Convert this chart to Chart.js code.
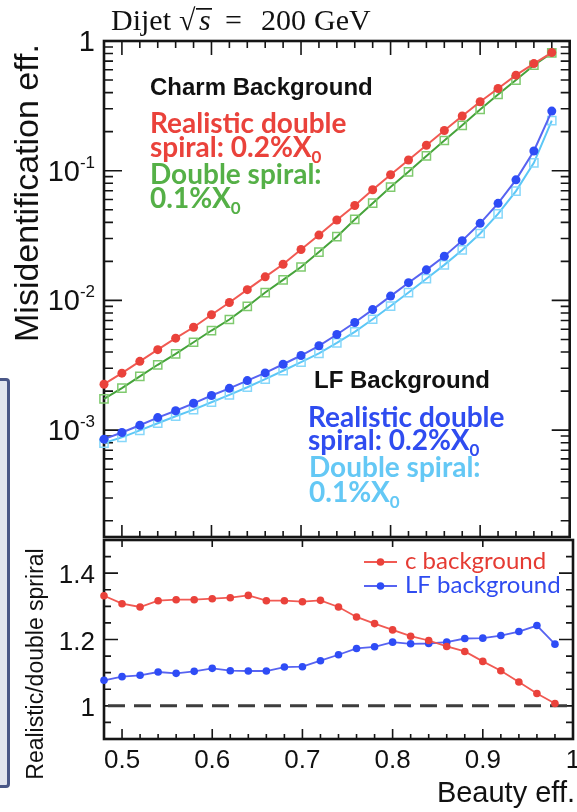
<!DOCTYPE html>
<html>
<head>
<meta charset="utf-8">
<title>Misidentification efficiency vs beauty efficiency</title>
<script src="https://cdn.jsdelivr.net/npm/chart.js@4.4.1/dist/chart.umd.min.js"></script>
<style>
  html, body { margin: 0; padding: 0; background: #fff; }
  body { width: 577px; height: 812px; position: relative; overflow: hidden; }
  canvas { position: absolute; left: 0; }
  #upper { top: 0; }
  #lower { top: 530px; }
  .sideBox {
    position: absolute; left: -12px; top: 378px; width: 16px; height: 404px;
    border: 3px solid #4a5787; border-radius: 4px; background: #e2e5ef;
  }
</style>
</head>
<body>
<div class="sideBox"></div>
<canvas id="upper" width="577" height="545"></canvas>
<canvas id="lower" width="577" height="282"></canvas>
<script>
// beauty efficiency of each working point
const beautyEff = [0.48, 0.50, 0.52, 0.54, 0.56, 0.58, 0.60, 0.62, 0.64, 0.66, 0.68, 0.70, 0.72,
                   0.74, 0.76, 0.78, 0.80, 0.82, 0.84, 0.86, 0.88, 0.90, 0.92, 0.94, 0.96, 0.98];

// charm background misidentification
const charmRealistic = [0.00226, 0.00275, 0.00339, 0.00417, 0.00512, 0.00621, 0.00776, 0.00964, 0.0121,
                        0.0152, 0.0190, 0.0247, 0.0319, 0.0417, 0.0539, 0.0713, 0.0930, 0.121, 0.157,
                        0.204, 0.264, 0.340, 0.430, 0.545, 0.670, 0.815];
const charmDouble = [0.00174, 0.00211, 0.00260, 0.00319, 0.00387, 0.00476, 0.00586, 0.00713, 0.00899,
                     0.0115, 0.0144, 0.0181, 0.0236, 0.0310, 0.0421, 0.0562, 0.0748, 0.098, 0.130,
                     0.171, 0.224, 0.297, 0.387, 0.500, 0.650, 0.810];

// light flavour background misidentification
const lfRealistic = [0.000852, 0.000959, 0.00109, 0.00125, 0.00141, 0.00161, 0.00185, 0.00210, 0.00241,
                     0.00276, 0.00322, 0.00376, 0.00447, 0.00546, 0.00676, 0.00850, 0.0108, 0.0137,
                     0.0172, 0.0219, 0.0289, 0.0393, 0.0560, 0.0850, 0.142, 0.288];
const lfDouble = [0.000795, 0.000880, 0.000995, 0.00113, 0.00128, 0.00144, 0.00164, 0.00187, 0.00214,
                  0.00247, 0.00287, 0.00334, 0.00390, 0.00470, 0.00572, 0.00716, 0.00905, 0.0115,
                  0.0147, 0.0188, 0.0245, 0.0328, 0.0464, 0.0696, 0.115, 0.243];

// realistic / double spiral ratios
const ratioCharm = [1.332, 1.308, 1.298, 1.317, 1.320, 1.320, 1.323, 1.326, 1.333, 1.317, 1.317, 1.314, 1.318,
                    1.298, 1.268, 1.248, 1.229, 1.210, 1.197, 1.179, 1.164, 1.134, 1.106, 1.072, 1.037, 1.007];
const ratioLF = [1.077, 1.088, 1.092, 1.102, 1.098, 1.104, 1.113, 1.106, 1.105, 1.105, 1.117, 1.118, 1.136,
                 1.154, 1.173, 1.178, 1.192, 1.187, 1.188, 1.192, 1.203, 1.204, 1.212, 1.224, 1.242, 1.186];

// tick labels
const xTickValues = [0.5, 0.6, 0.7, 0.8, 0.9, 1.0];
const xTickLabels = ['0.5', '0.6', '0.7', '0.8', '0.9', '1'];
const logTickValues = [1, 0.1, 0.01, 0.001];
const logTickLabels = [['1', ''], ['10', '-1'], ['10', '-2'], ['10', '-3']];
const ratioTickValues = [1, 1.2, 1.4];
const ratioTickLabels = ['1', '1.2', '1.4'];

const sans = '"Liberation Sans", Arial, Helvetica, sans-serif';
const calib = 'Lato, "Open Sans", sans-serif';
const serif = '"Liberation Serif", "Times New Roman", serif';

const RED = '#ea423b', RED_LINE = '#f15a53';
const GREEN = '#7fca6e', GREEN_LINE = '#46a33b', GREEN_TEXT = '#55b047';
const BLUE = '#2e4cf6', BLUE_LINE = '#5763f1';
const CYAN = '#86d7fa', CYAN_LINE = '#5cc7f6';

function series(values) {
  return beautyEff.map((x, i) => ({ x: x, y: values[i] }));
}

// text pieces drawn one after another: [text, font, dy]
function drawParts(ctx, x, y, parts) {
  let cx = x;
  parts.forEach(p => {
    ctx.font = p[1];
    ctx.fillText(p[0], cx, y + (p[2] || 0));
    cx += ctx.measureText(p[0]).width;
  });
}

function tick(ctx, x1, y1, x2, y2) {
  ctx.moveTo(x1, y1);
  ctx.lineTo(x2, y2);
}

// ROOT style frame with inward ticks on all four sides
function frame(opts) {
  return {
    id: 'frame',
    beforeDatasetsDraw(chart) {
      const { ctx, chartArea: a } = chart;
      const xs = chart.scales.x, ys = chart.scales.y;
      ctx.save();
      ctx.strokeStyle = '#151515';
      ctx.lineWidth = 1.6;
      ctx.beginPath();
      for (let i = 24; i <= 50; i++) {
        const px = xs.getPixelForValue(i / 50);
        const major = i % 5 === 0;
        const t = major ? opts.xTop[0] : opts.xTop[1];
        const b = major ? opts.xBottom[0] : opts.xBottom[1];
        if (t) tick(ctx, px, a.top, px, a.top + t);
        if (b) tick(ctx, px, a.bottom, px, a.bottom - b);
      }
      opts.yTicks.forEach(([v, major]) => {
        const py = ys.getPixelForValue(v);
        const len = major ? opts.yLen[0] : opts.yLen[1];
        tick(ctx, a.left, py, a.left + len, py);
        tick(ctx, a.right, py, a.right - len, py);
      });
      ctx.stroke();
      ctx.lineWidth = 2.6;
      ctx.strokeRect(a.left, a.top, a.right - a.left, a.bottom - a.top);
      if (opts.dashAt !== undefined) {
        const py = ys.getPixelForValue(opts.dashAt);
        ctx.strokeStyle = '#3d3d3d';
        ctx.lineWidth = 3;
        ctx.setLineDash([17, 9]);
        ctx.beginPath();
        ctx.moveTo(a.left + 4, py);
        ctx.lineTo(a.right, py);
        ctx.stroke();
      }
      ctx.restore();
    }
  };
}

// ---------- upper panel: misidentification efficiency ----------

const logTicks = logTickValues.map(v => [v, true]);
for (let n = -4; n <= -1; n++) {
  for (let k = 2; k <= 9; k++) {
    const v = k * Math.pow(10, n);
    if (v >= 1.5e-4 && v < 1) logTicks.push([v, false]);
  }
}

const upperText = {
  id: 'upperText',
  afterDraw(chart) {
    const { ctx } = chart;
    const ys = chart.scales.y;
    ctx.save();
    ctx.fillStyle = '#111';
    ctx.textBaseline = 'alphabetic';

    // y tick labels, right aligned
    logTickValues.forEach((v, i) => {
      const py = ys.getPixelForValue(v);
      const [base, exp] = logTickLabels[i];
      ctx.font = '29px ' + sans;
      const wb = ctx.measureText(base).width;
      ctx.font = '17px ' + sans;
      const we = ctx.measureText(exp).width;
      drawParts(ctx, 95 - wb - we, py + 10, [[base, '29px ' + sans], [exp, '17px ' + sans, -13]]);
    });

    // y title
    ctx.save();
    ctx.translate(38, 193);
    ctx.rotate(-Math.PI / 2);
    ctx.textAlign = 'center';
    ctx.font = '34px ' + sans;
    ctx.fillText('Misidentification eff.', 0, 0);
    ctx.restore();

    // header
    ctx.font = '30px ' + serif;
    ctx.fillText('Dijet', 111, 30);
    ctx.fillText('\u221A', 179, 30);
    ctx.font = 'italic 30px ' + serif;
    ctx.fillText('s', 199, 30);
    ctx.fillRect(196, 8, 16, 1.7);
    ctx.font = '30px ' + serif;
    ctx.fillText('=', 225, 30);
    ctx.fillText('200', 261, 30);
    ctx.fillText('GeV', 314, 30);

    // charm block
    const big = 'bold 28px ' + calib, sub = 'bold 17px ' + calib;
    ctx.fillStyle = '#111';
    ctx.font = 'bold 24px ' + sans;
    ctx.fillText('Charm Background', 150, 95);
    ctx.fillStyle = RED;
    drawParts(ctx, 150, 133, [['Realistic double', big]]);
    drawParts(ctx, 150, 157, [['spiral: 0.2%X', big], ['0', sub, 6]]);
    ctx.fillStyle = GREEN_TEXT;
    drawParts(ctx, 150, 184, [['Double spiral:', big]]);
    drawParts(ctx, 150, 208, [['0.1%X', big], ['0', sub, 6]]);

    // light flavour block
    ctx.fillStyle = '#111';
    ctx.font = 'bold 24px ' + sans;
    ctx.fillText('LF Background', 314, 388);
    ctx.fillStyle = '#2f4cf0';
    drawParts(ctx, 308, 427, [['Realistic double', big]]);
    drawParts(ctx, 308, 450, [['spiral: 0.2%X', big], ['0', sub, 6]]);
    ctx.fillStyle = '#64c8f5';
    drawParts(ctx, 309, 477, [['Double spiral:', big]]);
    drawParts(ctx, 309, 502, [['0.1%X', big], ['0', sub, 6]]);
    ctx.restore();
  }
};

function curve(label, values, line, marker, square) {
  return {
    label: label,
    data: series(values),
    borderColor: line,
    borderWidth: 2,
    pointStyle: square ? 'rect' : 'circle',
    pointRadius: square ? 5.8 : 4.5,
    pointBackgroundColor: square ? 'rgba(255,255,255,0)' : marker,
    pointBorderColor: marker,
    pointBorderWidth: square ? 1.5 : 0,
    tension: 0,
    clip: false
  };
}

new Chart(document.getElementById('upper').getContext('2d'), {
  type: 'line',
  data: {
    datasets: [
      curve('Charm, realistic double spiral', charmRealistic, RED_LINE, RED, false),
      curve('Charm, double spiral', charmDouble, GREEN_LINE, GREEN, true),
      curve('LF, realistic double spiral', lfRealistic, BLUE_LINE, BLUE, false),
      curve('LF, double spiral', lfDouble, CYAN_LINE, CYAN, true)
    ]
  },
  options: {
    responsive: false,
    animation: false,
    devicePixelRatio: 1,
    layout: { padding: { left: 104, right: 1, top: 41, bottom: 8 } },
    scales: {
      x: { type: 'linear', min: 0.48, max: 1.0, display: false },
      y: { type: 'logarithmic', min: 1.5e-4, max: 1, display: false }
    },
    plugins: { legend: { display: false }, tooltip: { enabled: false } }
  },
  plugins: [frame({ xTop: [14, 7], xBottom: [12, 6], yTicks: logTicks, yLen: [18, 9] }), upperText]
});

// ---------- lower panel: realistic / double spiral ----------

const ratioTicks = [];
for (let i = 19; i <= 29; i++) ratioTicks.push([i / 20, i % 4 === 0]);

const lowerText = {
  id: 'lowerText',
  afterDraw(chart) {
    const { ctx, chartArea: a } = chart;
    const xs = chart.scales.x, ys = chart.scales.y;
    ctx.save();
    ctx.fillStyle = '#111';
    ctx.textBaseline = 'alphabetic';

    ctx.font = '26px ' + sans;
    ctx.textAlign = 'right';
    ratioTickValues.forEach((v, i) => {
      ctx.fillText(ratioTickLabels[i], 95, ys.getPixelForValue(v) + 10);
    });
    ctx.textAlign = 'center';
    xTickValues.forEach((v, i) => {
      ctx.fillText(xTickLabels[i], xs.getPixelForValue(v), a.bottom + 29);
    });

    ctx.textAlign = 'right';
    ctx.font = '29px ' + sans;
    ctx.fillText('Beauty eff.', 575, 272);

    ctx.save();
    ctx.translate(43, 134);
    ctx.rotate(-Math.PI / 2);
    ctx.textAlign = 'center';
    ctx.font = '23px ' + sans;
    ctx.fillText('Realistic/double spriral', 0, 0);
    ctx.restore();

    // legend
    const rows = [['c background', '#e53b33', RED_LINE, RED, 32], ['LF background', '#2f4cf0', BLUE_LINE, BLUE, 56]];
    rows.forEach(([text, tc, lc, mc, y]) => {
      ctx.strokeStyle = lc;
      ctx.lineWidth = 2;
      ctx.beginPath();
      ctx.moveTo(364, y);
      ctx.lineTo(397, y);
      ctx.stroke();
      ctx.fillStyle = mc;
      ctx.beginPath();
      ctx.arc(380.5, y, 3.8, 0, Math.PI * 2);
      ctx.fill();
      ctx.fillStyle = tc;
      ctx.textAlign = 'left';
      ctx.font = '24px ' + calib;
      ctx.fillText(text, 405, y + 7);
    });
    ctx.restore();
  }
};

function ratioCurve(label, values, line, marker) {
  return {
    label: label,
    data: series(values),
    borderColor: line,
    borderWidth: 1.8,
    pointRadius: 3.8,
    pointBackgroundColor: marker,
    pointBorderWidth: 0,
    tension: 0,
    clip: false
  };
}

new Chart(document.getElementById('lower').getContext('2d'), {
  type: 'line',
  data: {
    datasets: [
      ratioCurve('c background', ratioCharm, RED_LINE, RED),
      ratioCurve('LF background', ratioLF, BLUE_LINE, BLUE)
    ]
  },
  options: {
    responsive: false,
    animation: false,
    devicePixelRatio: 1,
    layout: { padding: { left: 104, right: 1, top: 10, bottom: 73 } },
    scales: {
      x: { type: 'linear', min: 0.48, max: 1.0, display: false },
      y: { type: 'linear', min: 0.9, max: 1.5, display: false }
    },
    plugins: { legend: { display: false }, tooltip: { enabled: false } }
  },
  plugins: [frame({ xTop: [7, 0], xBottom: [10, 5], yTicks: ratioTicks, yLen: [14, 7], dashAt: 1 }), lowerText]
});
</script>
</body>
</html>
